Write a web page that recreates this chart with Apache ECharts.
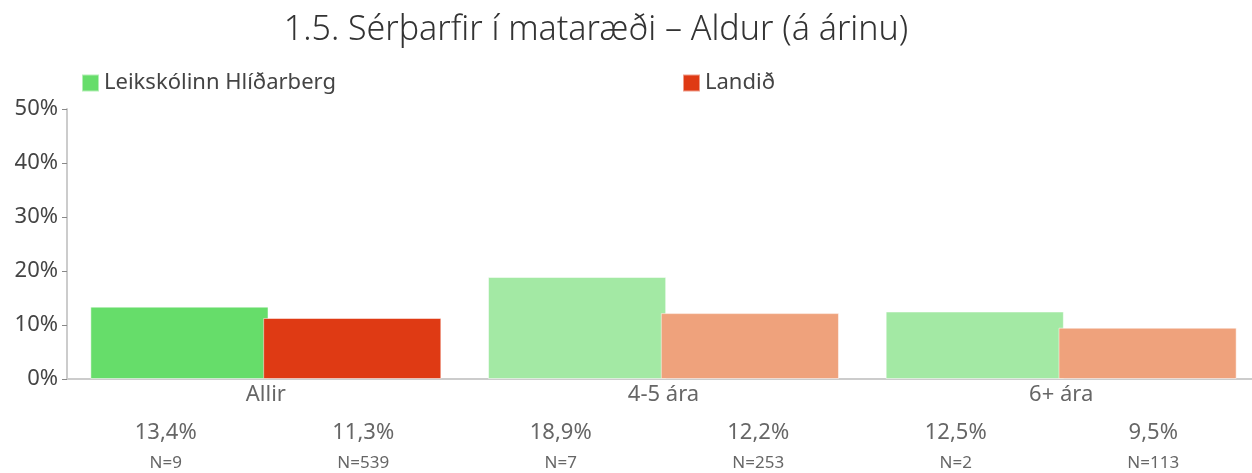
<!DOCTYPE html>
<html>
<head>
<meta charset="utf-8">
<style>
  html, body { margin: 0; padding: 0; background: #fff; }
  #chart { width: 1252px; height: 473px; }
</style>
<script src="https://cdn.jsdelivr.net/npm/echarts@6/dist/echarts.min.js"></script>
</head>
<body>
<div id="chart"></div>
<script>
// Age groups and the two compared populations
const categories = ['Allir', '4-5 ára', '6+ ára'];
const seriesNames = ['Leikskólinn Hlíðarberg', 'Landið'];
const schoolValues = [13.4, 18.9, 12.5];
const countryValues = [11.3, 12.2, 9.5];
const schoolN = [9, 7, 2];
const countryN = [539, 253, 113];
const yTicks = [0, 10, 20, 30, 40, 50];

// First group in full colour, the age subgroups in lighter tints
const schoolColors = ['#66dd6a', '#a3e9a4', '#a3e9a4'];
const countryColors = ['#df3a14', '#efa27c', '#efa27c'];

const FONT = '"Noto Sans", "Open Sans", sans-serif';

function pct(v) {
  return v.toFixed(1).replace('.', ',') + '%';
}

// Value/N labels placed under each bar half of every category
const labelSlots = [];
categories.forEach((c, i) => {
  labelSlots.push('{v|' + pct(schoolValues[i]) + '}\n{n|N=' + schoolN[i] + '}');
  labelSlots.push('{v|' + pct(countryValues[i]) + '}\n{n|N=' + countryN[i] + '}');
});

const chart = echarts.init(document.getElementById('chart'), null, { renderer: 'canvas' });

chart.setOption({
  animation: false,
  backgroundColor: '#ffffff',
  title: {
    text: '1.5. Sérþarfir í mataræði – Aldur (á árinu)',
    left: 591,
    textAlign: 'center',
    top: 8,
    textStyle: { fontFamily: FONT, fontSize: 34, fontWeight: 300, color: '#333' }
  },
  legend: [
    {
      data: [seriesNames[0]],
      left: 76, top: 67,
      icon: 'rect', itemWidth: 17, itemHeight: 17, itemGap: 10,
      textStyle: { fontFamily: FONT, fontSize: 22, color: '#444' }
    },
    {
      data: [seriesNames[1]],
      left: 677, top: 67,
      icon: 'rect', itemWidth: 17, itemHeight: 17, itemGap: 10,
      textStyle: { fontFamily: FONT, fontSize: 22, color: '#444' }
    }
  ],
  grid: [
    // bar area runs slightly past the right edge of the canvas
    { left: 67, width: 1193, top: 109, bottom: 94, containLabel: false, outerBoundsMode: 'none' },
    { left: 67, right: 0, top: 109, bottom: 94, containLabel: false, outerBoundsMode: 'none' }
  ],
  xAxis: [
    {
      type: 'category',
      gridIndex: 0,
      data: categories,
      axisLine: { lineStyle: { color: '#cccccc', width: 2 } },
      axisTick: { show: false },
      axisLabel: { fontFamily: FONT, fontSize: 22, color: '#666', margin: 5 }
    },
    {
      type: 'category',
      gridIndex: 1,
      data: labelSlots,
      position: 'bottom',
      axisLine: { show: false },
      axisTick: { show: false },
      axisLabel: {
        interval: 0,
        margin: 39,
        formatter: v => v,
        rich: {
          v: { fontFamily: FONT, fontSize: 22, color: '#666', lineHeight: 30, align: 'center' },
          n: { fontFamily: FONT, fontSize: 17, color: '#666', lineHeight: 30, align: 'center' }
        }
      }
    }
  ],
  yAxis: [
    {
      type: 'value',
      gridIndex: 0,
      min: yTicks[0],
      max: yTicks[yTicks.length - 1],
      interval: yTicks[1] - yTicks[0],
      axisLine: { show: true, lineStyle: { color: '#cccccc', width: 2 } },
      axisTick: { show: true, length: 5, lineStyle: { color: '#888', width: 1 } },
      splitLine: { show: false },
      axisLabel: { fontFamily: FONT, fontSize: 22, color: '#444', margin: 9, formatter: '{value}%' }
    },
    {
      type: 'value',
      gridIndex: 1,
      show: false,
      min: 0,
      max: 1
    }
  ],
  series: [
    {
      name: seriesNames[0],
      type: 'bar',
      xAxisIndex: 0,
      yAxisIndex: 0,
      barWidth: '44.8%',
      barGap: '-3%',
      itemStyle: { color: schoolColors[0], borderColor: 'rgba(255,255,255,0.5)', borderWidth: 1 },
      data: schoolValues.map((v, i) => ({ value: v, itemStyle: { color: schoolColors[i] } }))
    },
    {
      name: seriesNames[1],
      type: 'bar',
      xAxisIndex: 0,
      yAxisIndex: 0,
      barWidth: '44.8%',
      barGap: '-3%',
      itemStyle: { color: countryColors[0], borderColor: 'rgba(255,255,255,0.5)', borderWidth: 1 },
      data: countryValues.map((v, i) => ({ value: v, itemStyle: { color: countryColors[i] } }))
    }
  ]
});
</script>
</body>
</html>
